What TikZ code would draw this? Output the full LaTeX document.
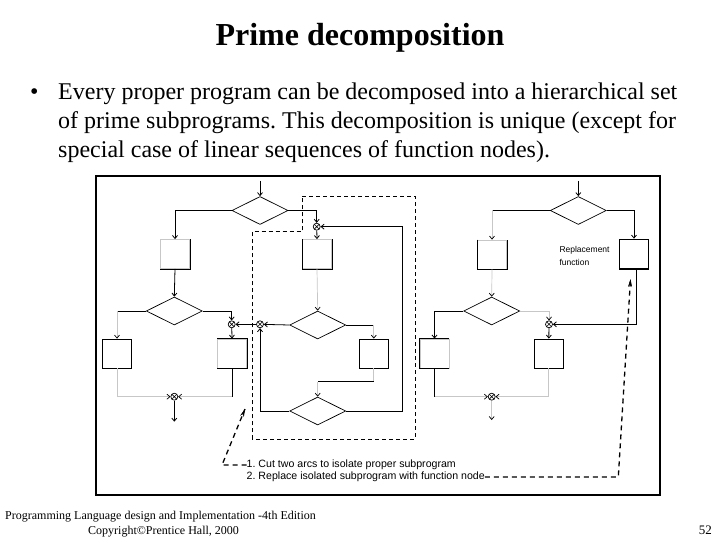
\documentclass[tikz,border=0pt]{standalone}
\usepackage{fontspec}
\setmainfont{Liberation Serif}
\newfontfamily\diagfont{Liberation Sans}
\usetikzlibrary{arrows.meta,shapes.geometric,calc}
\frenchspacing
\begin{document}
\begin{tikzpicture}[x=1pt,y=-1pt,
  ln/.style={line width=0.8pt,draw=black},
  fnt/.style={line width=0.7pt,draw=black!22},
  arr/.style={-{Straight Barb[length=3pt,width=5pt,color=black]}},
  dec/.style={diamond,draw,line width=0.7pt,minimum width=56pt,minimum height=28pt,inner sep=0pt},
  fbox/.style={rectangle,draw=black!22,line width=0.8pt,minimum width=29pt,minimum height=29pt,inner sep=0pt},
  jn/.style={circle,draw,line width=0.7pt,minimum size=7pt,inner sep=0pt,
    path picture={\draw[line width=0.6pt] (path picture bounding box.north west)--(path picture bounding box.south east) (path picture bounding box.north east)--(path picture bounding box.south west);}},
  lbl/.style={font=\diagfont\fontsize{8.5}{10}\selectfont,inner sep=0pt},
  annlbl/.style={font=\diagfont\fontsize{10.6}{12}\selectfont,inner sep=0pt},
  ann/.style={dashed,line width=1.3pt,dash pattern=on 5pt off 4pt},
  anntip/.style={-{Stealth[length=8pt,width=4pt]}}
]
\useasboundingbox (0,0) rectangle (720,540);
% title and bullet text
\node[anchor=base,font=\fontsize{32}{38}\selectfont\bfseries,inner sep=0pt] (title) at (360,46) {Prime decomposition};
\node[anchor=base west,font=\fontsize{24}{29}\selectfont,inner sep=0pt] (bul) at (30,100) {•};
\node[anchor=base west,font=\fontsize{24}{29}\selectfont,inner sep=0pt] (l1) at (58,100) {Every proper program can be decomposed into a hierarchical set};
\node[anchor=base west,font=\fontsize{24}{29}\selectfont,inner sep=0pt] (l2) at (58,129) {of prime subprograms. This decomposition is unique (except for};
\node[anchor=base west,font=\fontsize{24}{29}\selectfont,inner sep=0pt] (l3) at (58,158) {special case of linear sequences of function nodes).};
% footer
\node[anchor=base west,font=\fontsize{12}{14}\selectfont,inner sep=0pt] (f1) at (5,519) {Programming Language design and Implementation -4th Edition};
\node[anchor=base west,font=\fontsize{12}{14}\selectfont,inner sep=0pt] (f2) at (88,534) {Copyright©Prentice Hall, 2000};
\node[anchor=base east,font=\fontsize{13}{15}\selectfont,inner sep=0pt] (pg) at (712,534) {52};
% frame
\draw[line width=2.5pt] (96,176) rectangle (660,495);

% ===== left diagram =====
\node[dec] (D1) at (260,210.5) {};
\node[dec] (D2) at (174.3,311) {};
\node[dec] (D3) at (317.7,325) {};
\node[dec] (D4) at (317.7,411) {};
\node[fbox] (B1) at (175,254) {};
\node[fbox] (B2) at (317,254) {};
\node[fbox,draw=black] (B3) at (117,353.5) {};
\node[fbox] (B4) at (232,353.5) {};
\node[fbox,draw=black] (B5) at (373.8,353.5) {};
\draw[ln] (B1.north east) -- (B1.south east) -- (B1.south west);
\draw[ln] (B2.north west) -- (B2.south west) -- (B2.south east) -- (B2.north east);
\draw[ln] (B4.north west) -- (B4.north east) -- (B4.south east) -- (B4.south west);
\node[jn] (X1) at (316.7,226.7) {};
\node[jn] (X2) at (231.7,324.3) {};
\node[jn] (X3) at (174.3,396.7) {};
\node[jn] (X4) at (260,324.3) {};
\coordinate (in1) at (260,181);
\coordinate (out1) at (174.3,421.7);
\coordinate (c18) at (402.3,226.7);
\coordinate (c16) at (317.7,381.7);

\draw[ln,arr] (in1) -- (D1.north);
\draw[ln,arr] (D1.west) -| (B1.north);
\draw[ln,arr] (D1.east) -| (X1);
\draw[ln,arr] (X1) -- (B2.north);
\draw[ln,arr] (B1.south) -- (D2.north);
\draw[fnt,arr] (B2.south) -- (D3.north);
\draw[ln] (D2.west) -- (D2.west -| B3.north);
\draw[fnt,arr] (D2.west -| B3.north) -- (B3.north);
\draw[ln,arr] (D2.east) -| (X2);
\draw[ln,arr] (X2) -- (B4.north);
\draw[ln] (B4.south) -- (B4.south |- X3);
\draw[fnt,arr] (B4.south |- X3) -- (X3);
\draw[fnt,arr] (B3.south) |- (X3);
\draw[ln,arr] (X3) -- (out1);
\draw[ln,arr] (D3.west) -- (X4);
\draw[ln,arr] (X4) -- (X2);
\draw[ln] (D3.east) -- (D3.east -| B5.north);
\draw[fnt,arr] (D3.east -| B5.north) -- (B5.north);
\draw[fnt] (B5.south) -- (B5.south |- c16);
\draw[ln] (B5.south |- c16) -- (c16);
\draw[fnt,arr] (c16) -- (D4.north);
\draw[ln,arr] (D4.west) -| (X4);
\draw[ln,arr] (D4.east) -| (c18) -- (X1);

% isolated region
\draw[line width=0.8pt,dash pattern=on 4pt off 3pt] (302.3,196) -- (415,196) -- (415,439) -- (252.3,439) -- (252.3,231.7) -- (302.3,231.7) -- cycle;

% ===== right diagram =====
\node[dec] (RD1) at (578.3,210.5) {};
\node[dec] (RD2) at (491.7,311) {};
\node[fbox] (R1) at (492,254.5) {};
\node[rectangle,draw,line width=1.6pt,minimum width=29pt,minimum height=29.5pt,inner sep=0pt] (Rep) at (634,254.2) {};
\node[fbox] (R2) at (434.5,353.5) {};
\node[fbox,draw=black] (R3) at (548.8,353.5) {};
\draw[ln] (R1.north west) -- (R1.south west) -- (R1.south east) -- (R1.north east);
\draw[ln] (R2.north east) -- (R2.north west) -- (R2.south west) -- (R2.south east);
\node[jn] (RX1) at (549,324.3) {};
\node[jn] (RX2) at (491.7,396.7) {};
\coordinate (in2) at (578.3,181);
\coordinate (out2) at (491.7,420);
\coordinate (rc) at (636,324.3);
\node[lbl,anchor=west] (rt1) at (559.3,250) {Replacement};
\node[lbl,anchor=west] (rt2) at (559.3,262) {function};

\draw[ln,arr] (in2) -- (RD1.north);
\draw[ln] (RD1.west) -- (RD1.west -| R1.north);
\draw[fnt,arr] (RD1.west -| R1.north) -- (R1.north);
\draw[ln,arr] (RD1.east) -| (Rep.north);
\draw[fnt,arr] (R1.south) -- (RD2.north);
\draw[ln,arr] (RD2.west) -| (R2.north);
\draw[fnt,arr] (RD2.east) -| (RX1);
\draw[ln,arr] (RX1) -- (R3.north);
\draw[ln,arr] (rc |- Rep.south) -- (rc) -- (RX1);
\draw[ln] (R2.south) -- (R2.south |- RX2);
\draw[fnt,arr] (R2.south |- RX2) -- (RX2);
\draw[fnt,arr] (R3.south) |- (RX2);
\draw[fnt,arr] (RX2) -- (out2);

% annotations
\node[annlbl,anchor=west] (T1) at (246.5,465) {1. Cut two arcs to isolate proper subprogram};
\node[annlbl,anchor=west] (T2) at (246.5,477) {2. Replace isolated subprogram with function node};
\coordinate (a1) at (222,465);
\coordinate (a1t) at (245,409);
\coordinate (a2) at (618.3,477);
\coordinate (a2t) at (630.5,279);
\draw[ann] (T1.west) -- (a1) -- (a1t);
\draw[anntip] ($(a1t)!6pt!(a1)$) -- (a1t);
\draw[ann] (T2.east) -- (a2) -- (a2t);
\draw[anntip] ($(a2t)!6pt!(a2)$) -- (a2t);
\end{tikzpicture}
\end{document}
